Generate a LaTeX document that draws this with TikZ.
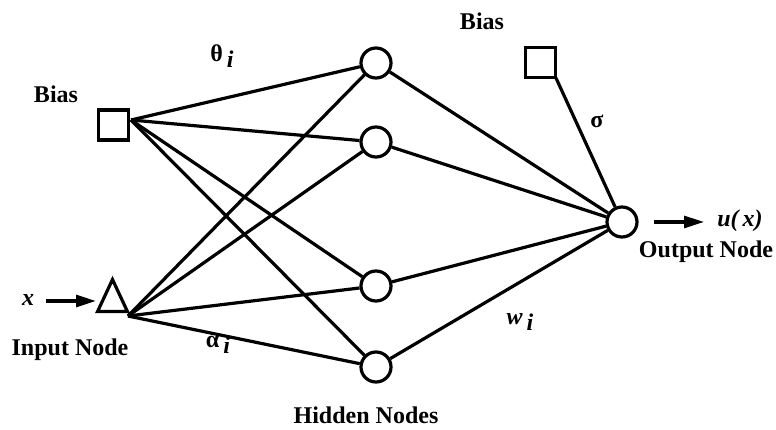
\documentclass[tikz,border=0pt]{standalone}
\usepackage{fontspec}
\setmainfont{Liberation Serif}
\usetikzlibrary{shapes.geometric,arrows.meta}
\begin{document}
\begin{tikzpicture}[x=1pt,y=-1pt,
  wire/.style={line width=3.2pt},
  neuron/.style={circle,draw,line width=3.2pt,minimum size=30pt,inner sep=0pt},
  biasbox/.style={rectangle,draw,line width=3.2pt,minimum size=30pt,inner sep=0pt},
  inbox/.style={isosceles triangle,isosceles triangle apex angle=50,shape border rotate=90,draw,line width=3.2pt,minimum height=32pt,inner sep=0pt},
  lbl/.style={font=\fontsize{24}{28}\selectfont\bfseries,inner sep=0pt},
  feed/.style={line width=3.2pt,-{Triangle[length=20pt,width=12pt]}}]
\useasboundingbox (0,0) rectangle (776,430);
% nodes
\node[biasbox] (b1) at (113.5,125) {};
\node[inbox] (in) at (112.5,302) {};
\node[neuron] (h1) at (376,63) {};
\node[neuron] (h2) at (376,142) {};
\node[neuron] (h3) at (376,286) {};
\node[neuron] (h4) at (376,367) {};
\node[neuron] (out) at (622,222) {};
\node[biasbox] (b2) at (540.5,62.5) {};
\coordinate (bc) at (131,120);
\coordinate (ic) at (128,316);
\coordinate (b2c) at (556,78);
% connections into and out of the hidden layer
\foreach \h in {h1,h2,h3,h4} {
  \draw[wire] (bc) -- (\h);
  \draw[wire] (ic) -- (\h);
  \draw[wire] (\h) -- (out);
}
\draw[wire] (b2c) -- (out);
% input and output arrows
\coordinate (xs) at (46,301);
\coordinate (xe) at (96,301);
\coordinate (us) at (654,222);
\coordinate (ue) at (704,222);
\draw[feed] (xs) -- (xe);
\draw[feed] (us) -- (ue);
% labels
\node[lbl] (lb1) at (56,94) {Bias};
\node[lbl] (lb2) at (482,21) {Bias};
\node[lbl] (lin) at (70,350) {Input Node};
\node[lbl] (lhid) at (366,415) {Hidden Nodes};
\node[lbl] (lout) at (706,252) {Output Node};
\node[lbl] (lx) at (28,300) {\itshape x};
\node[lbl] (lu) at (740,221) {\itshape u(\,x)};
\node[lbl] (lth) at (222,56) {θ\raisebox{-0.5ex}{\itshape\,i}};
\node[lbl] (lal) at (218,345) {α\raisebox{-0.5ex}{\itshape\,i}};
\node[lbl] (lw) at (520,322) {\itshape w\raisebox{-0.5ex}{\,i}};
\node[lbl] (ls) at (597,121) {σ};
\end{tikzpicture}
\end{document}
